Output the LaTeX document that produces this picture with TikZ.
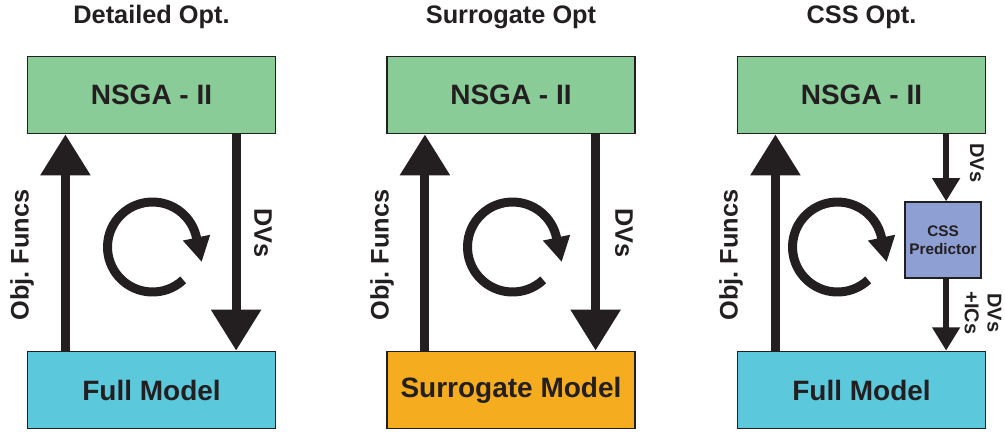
\documentclass[tikz,border=0pt]{standalone}
\usepackage{fontspec}
\setmainfont{Liberation Sans}
\usepackage{tikz}
\usetikzlibrary{positioning,arrows.meta}
\definecolor{nsgagreen}{RGB}{137,204,152}
\definecolor{fullcyan}{RGB}{91,200,220}
\definecolor{surrorange}{RGB}{245,172,30}
\definecolor{cssblue}{RGB}{142,159,211}
\definecolor{ink}{RGB}{35,31,32}

\begin{document}
\begin{tikzpicture}[x=0.75pt,y=0.75pt,
  optbox/.style={draw=ink,line width=1.1pt,minimum width=186pt,minimum height=58pt,inner sep=0pt,text=ink,font=\bfseries\fontsize{21}{25}\selectfont},
  cssbox/.style={draw=ink,line width=1pt,fill=cssblue,minimum size=57pt,inner sep=0pt,align=center,text=ink,font=\bfseries\fontsize{11.5}{13.5}\selectfont},
  flow/.style={draw=ink,line width=6.75pt,-{Triangle[length=30.75pt,width=36pt]}},
  flowsm/.style={draw=ink,line width=5pt,-{Triangle[length=17.5pt,width=20pt]}},
  cyc/.style={draw=ink,line width=6.75pt,-{Triangle[length=18.75pt,width=19.5pt]}},
  lbl/.style={text=ink,inner sep=0pt,font=\bfseries\fontsize{19}{22}\selectfont},
  lblsm/.style={text=ink,inner sep=0pt,align=center,font=\bfseries\fontsize{15}{17}\selectfont},
  ttl/.style={text=ink,inner sep=0pt,anchor=base,font=\bfseries\fontsize{19}{22}\selectfont}]
\useasboundingbox (0,0) rectangle (1005,-433);
\node[ttl] (ttlA) at (151.5,-23) {Detailed Opt.};
\node[ttl] (ttlB) at (511,-23) {Surrogate Opt};
\node[ttl] (ttlC) at (861.5,-23) {CSS Opt.};
\node[optbox,fill=nsgagreen] (nsgaA) at (151.5,-95) {NSGA - II};
\node[optbox,fill=nsgagreen] (nsgaB) at (511,-95) {NSGA - II};
\node[optbox,fill=nsgagreen] (nsgaC) at (861.5,-95) {NSGA - II};
\node[optbox,fill=fullcyan] (fullA) at (151.5,-390) {Full Model};
\node[optbox,fill=surrorange] (surrB) at (511,-390) {Surrogate Model};
\node[optbox,fill=fullcyan] (fullC) at (861.5,-390) {Full Model};
\node[cssbox] (cssC) at (943,-240) {CSS\\Predictor};
\draw[flow] ([xshift=29pt]fullA.north west) -- ([xshift=29pt]nsgaA.south west);
\draw[flow] ([xshift=157pt]nsgaA.south west) -- ([xshift=157pt]fullA.north west);
\draw[flow] ([xshift=29pt]surrB.north west) -- ([xshift=29pt]nsgaB.south west);
\draw[flow] ([xshift=157pt]nsgaB.south west) -- ([xshift=157pt]surrB.north west);
\draw[flow] ([xshift=29pt]fullC.north west) -- ([xshift=29pt]nsgaC.south west);
\coordinate (dvC) at ([xshift=157pt]nsgaC.south west);
\draw[flowsm] (dvC) -- (dvC |- cssC.north);
\draw[flowsm] (cssC.south -| dvC) -- (fullC.north -| dvC);
\coordinate (loopA) at (152.5,-247);
\coordinate (loopB) at (512.5,-247);
\coordinate (loopC) at (837.5,-247);
\draw[cyc] (loopA) ++(-47:45) arc[start angle=-47,end angle=-348,radius=45] -- ++(-78:25);
\draw[cyc] (loopB) ++(-47:45) arc[start angle=-47,end angle=-348,radius=45] -- ++(-78:25);
\draw[cyc] (loopC) ++(-47:45) arc[start angle=-47,end angle=-348,radius=45] -- ++(-78:25);
\node[lbl,rotate=90] (objA) at (22,-255) {Obj.\ Funcs};
\node[lbl,rotate=90] (objB) at (382,-255) {Obj.\ Funcs};
\node[lbl,rotate=90] (objC) at (731,-255) {Obj.\ Funcs};
\node[lbl,rotate=-90] (dvsA) at (263,-233) {DVs};
\node[lbl,rotate=-90] (dvsB) at (624,-233) {DVs};
\node[lblsm,rotate=-90] (dvsC) at (977,-163) {DVs};
\node[lblsm,rotate=-90] (icsC) at (983,-313) {DVs\\+ICs};
\end{tikzpicture}
\end{document}
